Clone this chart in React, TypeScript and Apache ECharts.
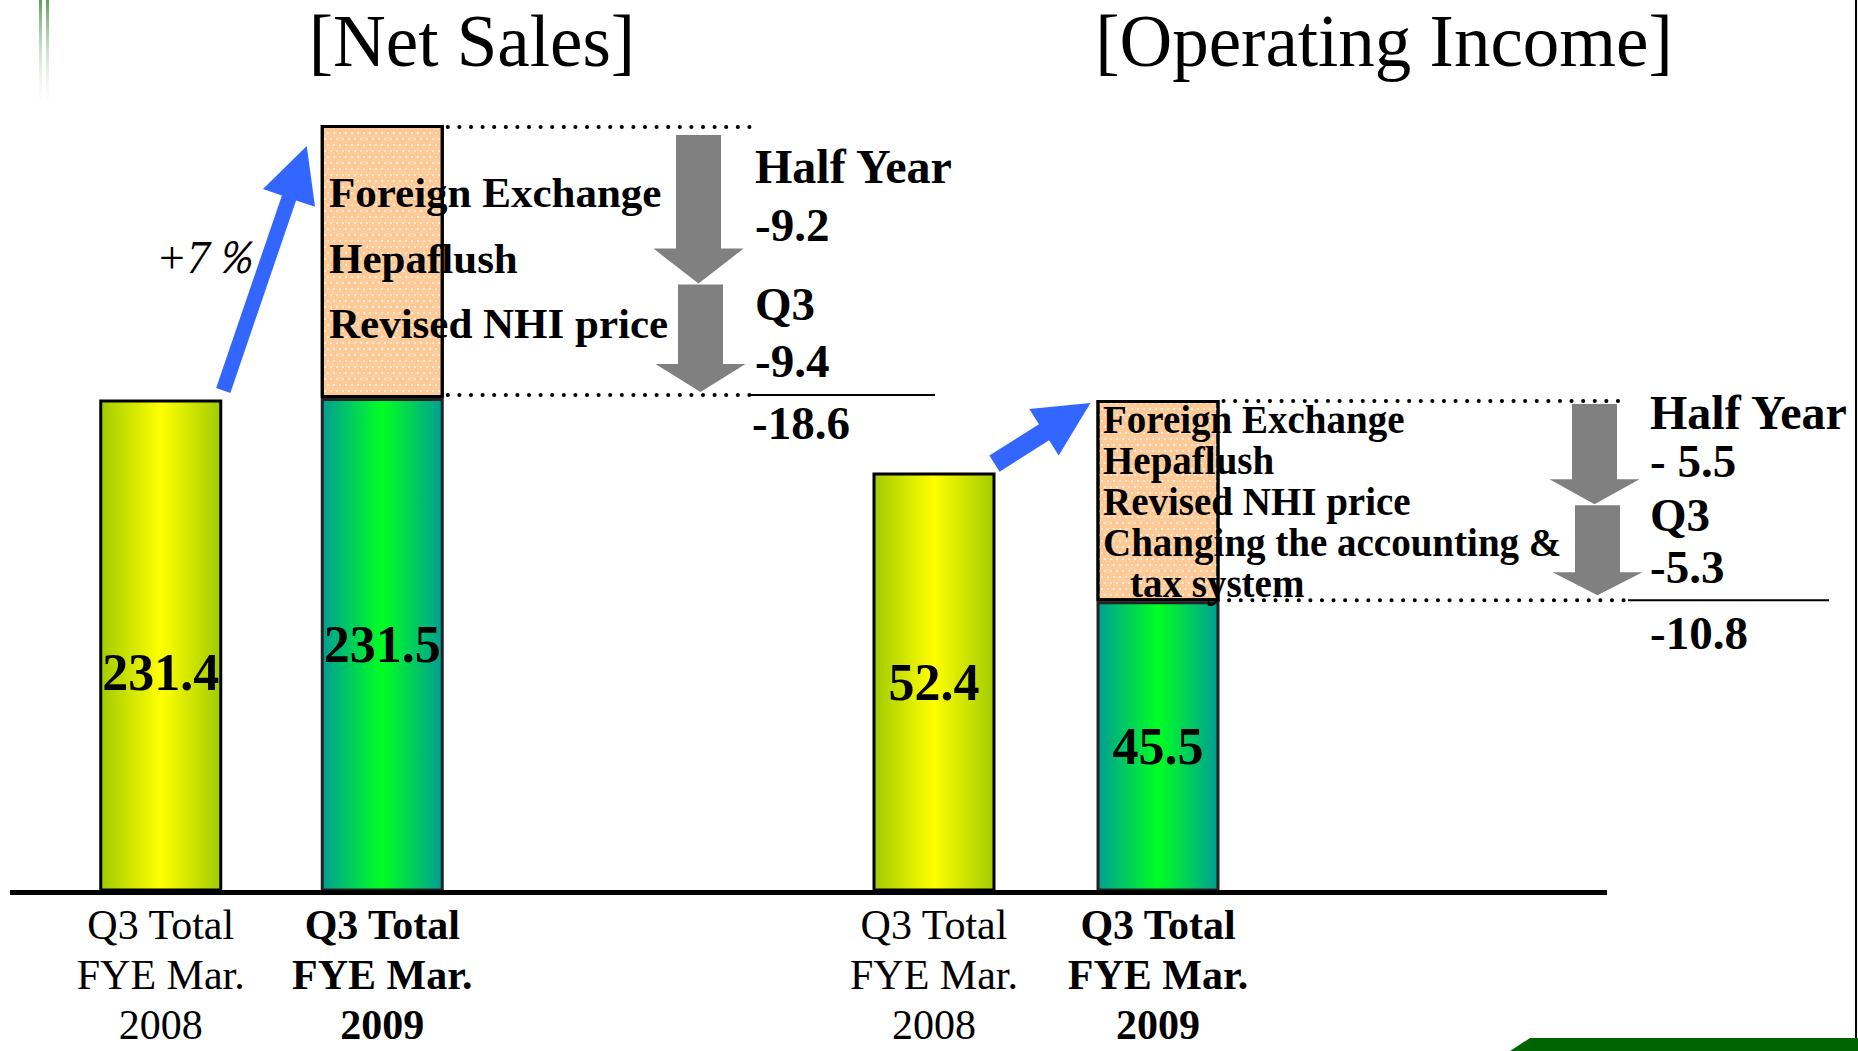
import React, { useEffect, useRef } from "react";
import * as echarts from "echarts";

// ---------- data ----------
const categories = ["Q3 Total\nFYE Mar.\n2008", "Q3 Total\nFYE Mar.\n2009"];
const netSalesBase = [231.4, 231.5];
const netSalesImpact: (number | string)[] = ["-", 18.6];
const opIncomeBase = [52.4, 45.5];
const opIncomeImpact: (number | string)[] = ["-", 10.8];
const netSalesChange = ["Half Year", "-9.2", "Q3", "-9.4"];
const netSalesTotalChange = "-18.6";
const opIncomeChange = ["Half Year", "- 5.5", "Q3", "-5.3"];
const opIncomeTotalChange = "-10.8";
const netSalesFactors = ["Foreign Exchange", "Hepaflush", "Revised NHI price"];
const opIncomeFactors = [
  "Foreign Exchange",
  "Hepaflush",
  "Revised NHI price",
  "Changing the accounting &",
  "tax system",
];
const growthLabel = "+7％";
const titles = ["[Net Sales]", "[Operating Income]"];

// ---------- styles ----------
const SERIF = '"Liberation Serif", "Times New Roman", Times, serif';
const BAR_W = 123;

const yellowFill = () =>
  new echarts.graphic.LinearGradient(0, 0, 1, 0, [
    { offset: 0, color: "#a2cb00" },
    { offset: 0.5, color: "#ffff00" },
    { offset: 1, color: "#a2cb00" },
  ]);
const greenFill = () =>
  new echarts.graphic.LinearGradient(0, 0, 1, 0, [
    { offset: 0, color: "#009e94" },
    { offset: 0.5, color: "#00ff22" },
    { offset: 1, color: "#009e94" },
  ]);
const orangeStyle = {
  color: "#fdca98",
  borderColor: "#000",
  borderWidth: 3,
  decal: {
    symbol: "circle",
    symbolSize: 1,
    color: "rgba(255,255,255,0.75)",
    dashArrayX: [
      [2, 4],
      [0, 3, 2, 1],
    ],
    dashArrayY: [2, 4],
  },
};

function arrowPoints(
  tail: number[],
  tip: number[],
  shaftW: number,
  headW: number,
  headLen: number
) {
  const dx = tip[0] - tail[0];
  const dy = tip[1] - tail[1];
  const L = Math.hypot(dx, dy);
  const ux = dx / L;
  const uy = dy / L;
  const px = -uy;
  const py = ux;
  const bx = tip[0] - ux * headLen;
  const by = tip[1] - uy * headLen;
  return [
    [tail[0] + (px * shaftW) / 2, tail[1] + (py * shaftW) / 2],
    [bx + (px * shaftW) / 2, by + (py * shaftW) / 2],
    [bx + (px * headW) / 2, by + (py * headW) / 2],
    [tip[0], tip[1]],
    [bx - (px * headW) / 2, by - (py * headW) / 2],
    [bx - (px * shaftW) / 2, by - (py * shaftW) / 2],
    [tail[0] - (px * shaftW) / 2, tail[1] - (py * shaftW) / 2],
  ];
}

function txt(
  text: string,
  x: number,
  y: number,
  size: number,
  opts: { bold?: boolean; align?: string; italic?: boolean } = {}
) {
  return {
    type: "text",
    x,
    y,
    z: 100,
    style: {
      text,
      fill: "#000",
      fontSize: size,
      fontFamily: SERIF,
      fontWeight: opts.bold ? "bold" : "normal",
      fontStyle: opts.italic ? "italic" : "normal",
      align: opts.align || "left",
      verticalAlign: "middle",
    },
  };
}

function dotted(x1: number, x2: number, y: number) {
  return {
    type: "line",
    z: 100,
    shape: { x1, y1: y, x2, y2: y },
    style: { stroke: "#000", lineWidth: 4, lineDash: [0.1, 11.5], lineCap: "round" },
  };
}

function solid(x1: number, x2: number, y: number, w = 2) {
  return {
    type: "line",
    z: 100,
    shape: { x1, y1: y, x2, y2: y },
    style: { stroke: "#000", lineWidth: w },
  };
}

function grayArrow(cx: number, top: number, tip: number, headLen: number) {
  return {
    type: "polygon",
    z: 100,
    shape: { points: arrowPoints([cx, top], [cx, tip], 45, 90, headLen) },
    style: { fill: "#808080" },
  };
}

function blueArrow(tail: number[], tip: number[], shaftW: number) {
  return {
    type: "polygon",
    z: 100,
    shape: { points: arrowPoints(tail, tip, shaftW, 55, 55) },
    style: { fill: "#3366ff" },
  };
}

const labelFormatter = (v: string) => {
  const bold = v.indexOf("2009") >= 0;
  return v
    .split("\n")
    .map((l) => (bold ? `{b|${l}}` : `{r|${l}}`))
    .join("\n");
};

const axisLabel = {
  interval: 0,
  margin: 10,
  formatter: labelFormatter,
  rich: {
    r: { fontFamily: SERIF, fontSize: 42, lineHeight: 50, color: "#000" },
    b: { fontFamily: SERIF, fontSize: 42, lineHeight: 50, color: "#000", fontWeight: "bold" },
  },
};

const valueLabel = {
  show: true,
  position: "inside",
  fontFamily: SERIF,
  fontSize: 52,
  fontWeight: "bold",
  color: "#000",
};

function baseData(values: number[], firstOffset: number) {
  return values.map((v, i) => ({
    value: v,
    itemStyle: {
      color: i === 0 ? yellowFill() : greenFill(),
      borderColor: i === 0 ? "#000" : "#222",
      borderWidth: 3,
    },
    label: i === 0 ? { offset: [0, firstOffset] } : {},
  }));
}

export default function App() {
  const ref = useRef<HTMLDivElement>(null);

  useEffect(() => {
    if (!ref.current) return;
    const chart = echarts.init(ref.current, undefined, { renderer: "svg" });

    chart.setOption({
      animation: false,
      backgroundColor: "#ffffff",
      grid: [
        { left: 50, width: 443, top: 97, height: 793 },
        { left: 822, width: 448, top: 331, height: 559 },
      ],
      xAxis: [0, 1].map((g) => ({
        type: "category",
        gridIndex: g,
        data: categories,
        axisLine: { show: false },
        axisTick: { show: false },
        splitLine: { show: false },
        axisLabel,
      })),
      yAxis: [
        { type: "value", gridIndex: 0, min: 198, max: 252, show: false },
        { type: "value", gridIndex: 1, min: 30, max: 60, show: false },
      ],
      series: [
        {
          type: "bar",
          name: "Net Sales",
          xAxisIndex: 0,
          yAxisIndex: 0,
          stack: "net",
          barWidth: BAR_W,
          data: baseData(netSalesBase, 27),
          label: valueLabel,
        },
        {
          type: "bar",
          name: "Net Sales impact",
          xAxisIndex: 0,
          yAxisIndex: 0,
          stack: "net",
          barWidth: BAR_W,
          data: netSalesImpact,
          itemStyle: orangeStyle,
        },
        {
          type: "bar",
          name: "Operating Income",
          xAxisIndex: 1,
          yAxisIndex: 1,
          stack: "op",
          barWidth: BAR_W,
          data: baseData(opIncomeBase, 0),
          label: valueLabel,
        },
        {
          type: "bar",
          name: "Operating Income impact",
          xAxisIndex: 1,
          yAxisIndex: 1,
          stack: "op",
          barWidth: BAR_W,
          data: opIncomeImpact,
          itemStyle: orangeStyle,
        },
      ],
    });

    const px = (g: number, i: number, v: number) =>
      chart.convertToPixel({ xAxisIndex: g, yAxisIndex: g }, [i, v]) as number[];

    const half = BAR_W / 2;
    // Net sales anchors
    const n0 = px(0, 0, netSalesBase[0]);
    const n1 = px(0, 1, netSalesBase[1]);
    const n1top = px(0, 1, netSalesBase[1] + (netSalesImpact[1] as number));
    // Operating income anchors
    const o0 = px(1, 0, opIncomeBase[0]);
    const o1 = px(1, 1, opIncomeBase[1]);
    const o1top = px(1, 1, opIncomeBase[1] + (opIncomeImpact[1] as number));

    const nRight = n1[0] + half;
    const oRight = o1[0] + half;

    const nTopY = n1top[1] + 2;
    const nBotY = n1[1] - 3;
    const oTopY = o1top[1] + 1;
    const oBotY = o1[1] - 1;

    // gray arrows split positions
    const nA1Top = nTopY + 8;
    const nA2Tip = nBotY - 3;
    const nSplit = nA1Top + (nA2Tip - nA1Top) * 0.555;
    const oA1Top = oTopY + 3;
    const oA2Tip = oBotY - 5;
    const oSplit = oA1Top + (oA2Tip - oA1Top) * 0.525;

    // operating-income factor text block placed inside the orange box
    const oBox = oBotY - oTopY;
    const oFirst = oTopY + 19;
    const oStep = (oBox * 0.822) / 4;

    const graphic: any[] = [
      // decorative slide lines
      {
        type: "rect",
        z: 100,
        shape: { x: 39, y: 0, width: 3, height: 115 },
        style: {
          fill: new echarts.graphic.LinearGradient(0, 0, 0, 1, [
            { offset: 0, color: "#5e9e5e" },
            { offset: 1, color: "rgba(255,255,255,0)" },
          ]),
        },
      },
      {
        type: "rect",
        z: 100,
        shape: { x: 46, y: 0, width: 3, height: 115 },
        style: {
          fill: new echarts.graphic.LinearGradient(0, 0, 0, 1, [
            { offset: 0, color: "#5e9e5e" },
            { offset: 1, color: "rgba(255,255,255,0)" },
          ]),
        },
      },
      {
        type: "line",
        z: 100,
        shape: { x1: 1856, y1: 0, x2: 1856, y2: 1040 },
        style: { stroke: "#000", lineWidth: 2 },
      },
      {
        type: "polygon",
        z: 100,
        shape: {
          points: [
            [1530, 1038],
            [1858, 1038],
            [1858, 1051],
            [1510, 1051],
          ],
        },
        style: { fill: "#006400" },
      },
      // base line
      solid(10, 1607, 892.5, 5),
      // titles
      txt(titles[0], 472, 41, 73, { align: "center" }),
      txt(titles[1], 1384, 41, 73, { align: "center" }),

      // ---- Net sales annotations ----
      blueArrow([n0[0] + half + 1, n0[1] - 9], [n1[0] - half - 14, n1top[1] + 21], 15),
      txt(growthLabel, 206, 257, 46, { align: "center", italic: true }),
      dotted(nRight + 4, 752, nTopY),
      dotted(nRight + 4, 750, nBotY),
      solid(750, 935, nBotY),
      grayArrow(698.5, nA1Top, nSplit + 6, 35),
      grayArrow(700.5, nSplit + 7, nA2Tip, 28),
      ...netSalesFactors.map((t, i) => txt(t, 329, 192.5 + i * 65.5, 43, { bold: true })),
      txt(netSalesChange[0], 755, 166.5, 48, { bold: true }),
      txt(netSalesChange[1], 755, 224.5, 47, { bold: true }),
      txt(netSalesChange[2], 755, 304, 47, { bold: true }),
      txt(netSalesChange[3], 755, 361, 47, { bold: true }),
      txt(netSalesTotalChange, 752, 422.5, 47, { bold: true }),

      // ---- Operating income annotations ----
      blueArrow([o0[0] + half - 1, o0[1] - 9], [o1[0] - half - 6, o1top[1] + 3], 19),
      dotted(oRight + 4, 1620, oTopY),
      dotted(oRight - 2, 1627, oBotY),
      solid(1628, 1829, oBotY),
      grayArrow(1594.5, oA1Top, oSplit, 25),
      grayArrow(1597.5, oSplit + 1, oA2Tip, 23),
      ...opIncomeFactors.map((t, i) =>
        txt(t, i === 4 ? 1130 : 1103, oFirst + i * oStep, 39, { bold: true })
      ),
      txt(opIncomeChange[0], 1650, 412.5, 48, { bold: true }),
      txt(opIncomeChange[1], 1650, 460.5, 47, { bold: true }),
      txt(opIncomeChange[2], 1650, 514.5, 47, { bold: true }),
      txt(opIncomeChange[3], 1650, 567, 47, { bold: true }),
      txt(opIncomeTotalChange, 1650, 633, 47, { bold: true }),
    ];

    chart.setOption({ graphic });

    return () => chart.dispose();
  }, []);

  return (
    <div
      ref={ref}
      style={{
        position: "fixed",
        left: 0,
        top: 0,
        width: 1858,
        height: 1051,
        background: "#fff",
      }}
    />
  );
}
